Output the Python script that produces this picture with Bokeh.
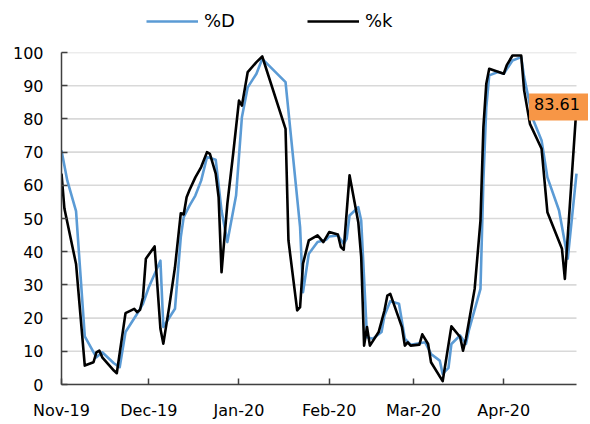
import pandas as pd
from bokeh.plotting import figure
from bokeh.layouts import column
from bokeh.models import (Range1d, FixedTicker, Legend, LegendItem, Label,
                          ColumnDataSource)
from bokeh.embed import file_html
from bokeh.resources import INLINE

# ---------------- data ----------------
k_dates = ["2019-11-01", "2019-11-02", "2019-11-06", "2019-11-09", "2019-11-12", "2019-11-13",
           "2019-11-14", "2019-11-15", "2019-11-19", "2019-11-20", "2019-11-23", "2019-11-26",
           "2019-11-27", "2019-11-28", "2019-11-29", "2019-11-30", "2019-12-03", "2019-12-05",
           "2019-12-06", "2019-12-08", "2019-12-10", "2019-12-12", "2019-12-13", "2019-12-14",
           "2019-12-15", "2019-12-17", "2019-12-19", "2019-12-21", "2019-12-22", "2019-12-24",
           "2019-12-25", "2019-12-26", "2019-12-28", "2019-12-30", "2020-01-01", "2020-01-02",
           "2020-01-04", "2020-01-07", "2020-01-09", "2020-01-17", "2020-01-18", "2020-01-21",
           "2020-01-22", "2020-01-23", "2020-01-25", "2020-01-28", "2020-01-30", "2020-02-01",
           "2020-02-04", "2020-02-05", "2020-02-06", "2020-02-08", "2020-02-11", "2020-02-12",
           "2020-02-13", "2020-02-14", "2020-02-15", "2020-02-18", "2020-02-20", "2020-02-21",
           "2020-02-22", "2020-02-26", "2020-02-27", "2020-02-28", "2020-02-29", "2020-03-03",
           "2020-03-04", "2020-03-06", "2020-03-07", "2020-03-11", "2020-03-14", "2020-03-17",
           "2020-03-18", "2020-03-19", "2020-03-22", "2020-03-24", "2020-03-25", "2020-03-26",
           "2020-03-27", "2020-04-01", "2020-04-02", "2020-04-04", "2020-04-07", "2020-04-08",
           "2020-04-10", "2020-04-14", "2020-04-16", "2020-04-21", "2020-04-22", "2020-04-26"]
k_values = [63.5, 53.0, 36.3, 5.7, 6.7, 9.7,
            10.2, 8.2, 4.2, 3.4, 21.5, 22.8,
            21.8, 22.5, 26.3, 37.9, 41.6, 16.8,
            12.3, 23.3, 35.3, 51.6, 51.2, 56.4,
            58.6, 62.4, 65.5, 70.0, 69.5, 63.5,
            56.4, 33.8, 54.4, 69.5, 85.5, 84.0,
            94.1, 97.1, 98.8, 77.0, 43.4, 22.3,
            23.3, 36.4, 43.4, 44.9, 42.9, 45.9,
            45.2, 41.4, 40.6, 63.0, 48.9, 38.4,
            11.7, 17.3, 11.7, 15.8, 22.3, 26.8,
            27.3, 17.3, 11.7, 12.7, 11.7, 12.0,
            15.1, 12.2, 6.7, 1.0, 17.5, 14.3,
            10.2, 13.8, 28.8, 49.4, 77.5, 90.6,
            95.1, 93.6, 96.1, 99.1, 99.1, 88.6,
            78.5, 71.0, 51.9, 40.9, 31.8, 83.61]

d_dates = ["2019-11-01", "2019-11-03", "2019-11-06", "2019-11-09", "2019-11-13", "2019-11-15",
           "2019-11-19", "2019-11-21", "2019-11-23", "2019-11-27", "2019-11-29", "2019-12-01",
           "2019-12-05", "2019-12-06", "2019-12-10", "2019-12-12", "2019-12-13", "2019-12-15",
           "2019-12-17", "2019-12-19", "2019-12-21", "2019-12-24", "2019-12-26", "2019-12-28",
           "2019-12-31", "2020-01-02", "2020-01-04", "2020-01-07", "2020-01-09", "2020-01-17",
           "2020-01-22", "2020-01-23", "2020-01-25", "2020-01-28", "2020-01-31", "2020-02-01",
           "2020-02-04", "2020-02-06", "2020-02-07", "2020-02-08", "2020-02-11", "2020-02-12",
           "2020-02-14", "2020-02-16", "2020-02-19", "2020-02-20", "2020-02-22", "2020-02-25",
           "2020-02-27", "2020-02-29", "2020-03-05", "2020-03-07", "2020-03-10", "2020-03-11",
           "2020-03-13", "2020-03-14", "2020-03-17", "2020-03-19", "2020-03-20", "2020-03-24",
           "2020-03-25", "2020-03-26", "2020-03-27", "2020-03-30", "2020-04-01", "2020-04-04",
           "2020-04-07", "2020-04-08", "2020-04-11", "2020-04-14", "2020-04-16", "2020-04-20",
           "2020-04-23", "2020-04-26"]
d_values = [70.5, 61.4, 52.2, 14.5, 8.2, 9.7,
            6.4, 5.2, 15.8, 21.3, 24.3, 29.3,
            37.3, 17.3, 22.8, 44.4, 50.4, 53.9,
            56.9, 61.4, 68.5, 67.7, 52.4, 42.9,
            56.9, 80.5, 89.5, 93.6, 98.1, 91.1,
            47.4, 27.8, 39.4, 42.9, 43.6, 44.6,
            44.9, 42.4, 43.9, 50.9, 53.4, 49.4,
            14.2, 13.8, 15.8, 20.8, 25.1, 24.3,
            13.8, 12.0, 12.7, 9.2, 7.2, 3.2,
            5.0, 12.2, 14.8, 12.2, 16.3, 28.8,
            61.4, 83.5, 93.1, 94.1, 93.6, 97.6,
            98.6, 92.6, 80.0, 73.5, 62.4, 52.4,
            37.9, 63.5]

tick_dates = ["2019-11-01", "2019-12-01", "2020-01-01", "2020-02-01", "2020-03-01", "2020-04-01"]
tick_labels = ["Nov-19", "Dec-19", "Jan-20", "Feb-20", "Mar-20", "Apr-20"]
y_ticks = list(range(0, 101, 10))
last_label = "83.61"
series_names = ["%D", "%k"]
series_colors = ["#5B9BD5", "#000000"]

# ---------------- figures ----------------
FONT = "DejaVu Sans"
W = 588
kd = pd.to_datetime(k_dates)
dd = pd.to_datetime(d_dates)
tk = pd.to_datetime(tick_dates)
x_first, x_last = kd[0], kd[-1]

# legend strip (top)
pl = figure(width=W, height=40, x_axis_type=None, y_axis_type=None,
            x_range=Range1d(0, 1), y_range=Range1d(0, 1),
            output_backend="svg", toolbar_location=None,
            min_border_left=0, min_border_right=0, min_border_top=0, min_border_bottom=0)
pl.outline_line_color = None
pl.grid.visible = False
leg_items = []
for name, col in zip(series_names, series_colors):
    # dummy renderers placed outside the visible range: only their legend glyph shows
    r = pl.line(x=[5, 6], y=[5, 6], line_color=col, line_width=2.6)
    leg_items.append(LegendItem(label=name, renderers=[r]))
legend = Legend(items=leg_items, orientation="horizontal", location=(85, 9),
                glyph_width=52, glyph_height=20, label_standoff=6, spacing=72,
                padding=0, margin=0, border_line_color=None, background_fill_alpha=0,
                label_text_font=FONT, label_text_font_size="18px", label_text_color="#000000")
pl.add_layout(legend, "center")

# main chart: frame runs to the right edge so the data label is not clipped;
# axis line and grid lines stop at the last date
p = figure(width=W, height=382, x_axis_type="datetime",
           output_backend="svg", toolbar_location=None,
           x_range=Range1d(x_first, x_last + pd.Timedelta(hours=99)),
           y_range=Range1d(0, 100),
           min_border_left=61, min_border_right=0, min_border_top=12, min_border_bottom=38)
p.outline_line_color = None
p.background_fill_color = "white"
p.border_fill_color = "white"

grid_src = ColumnDataSource(dict(x0=[x_first] * len(y_ticks), x1=[x_last] * len(y_ticks),
                                 y=y_ticks))
p.segment(x0="x0", y0="y", x1="x1", y1="y", source=grid_src,
          line_color="#D9D9D9", line_width=1.6)

src_d = ColumnDataSource(dict(x=dd, y=d_values))
src_k = ColumnDataSource(dict(x=kd, y=k_values))
p.line("x", "y", source=src_d, line_color=series_colors[0], line_width=2.6, line_join="round")
p.line("x", "y", source=src_k, line_color=series_colors[1], line_width=2.6, line_join="round")

tick_ms = [t.value // 10**6 for t in tk]
p.xaxis.ticker = FixedTicker(ticks=tick_ms)
p.xaxis.major_label_overrides = {m: lab for m, lab in zip(tick_ms, tick_labels)}
p.xaxis.bounds = (x_first, x_last)
p.yaxis.ticker = FixedTicker(ticks=y_ticks)
for ax in (p.xaxis[0], p.yaxis[0]):
    ax.axis_line_color = "#404040"
    ax.axis_line_width = 1.5
    ax.major_tick_line_color = "#404040"
    ax.major_tick_line_width = 1.5
    ax.major_tick_in = 6
    ax.major_tick_out = 0
    ax.minor_tick_line_color = None
    ax.major_label_text_font = FONT
    ax.major_label_text_font_size = "16px"
    ax.major_label_text_color = "#000000"
p.xaxis.major_label_standoff = 16
p.yaxis.major_label_standoff = 18
p.grid.visible = False

lab = Label(x=x_last, y=k_values[-1], text=last_label, x_offset=-17,
            text_align="center", text_baseline="middle",
            text_font=FONT, text_font_size="16px", text_color="#000000",
            background_fill_color="#F79646", padding=(5, 10, 5, 10))
p.add_layout(lab)

layout = column(pl, p, spacing=0)
open("out.html", "w").write(file_html(layout, INLINE))
